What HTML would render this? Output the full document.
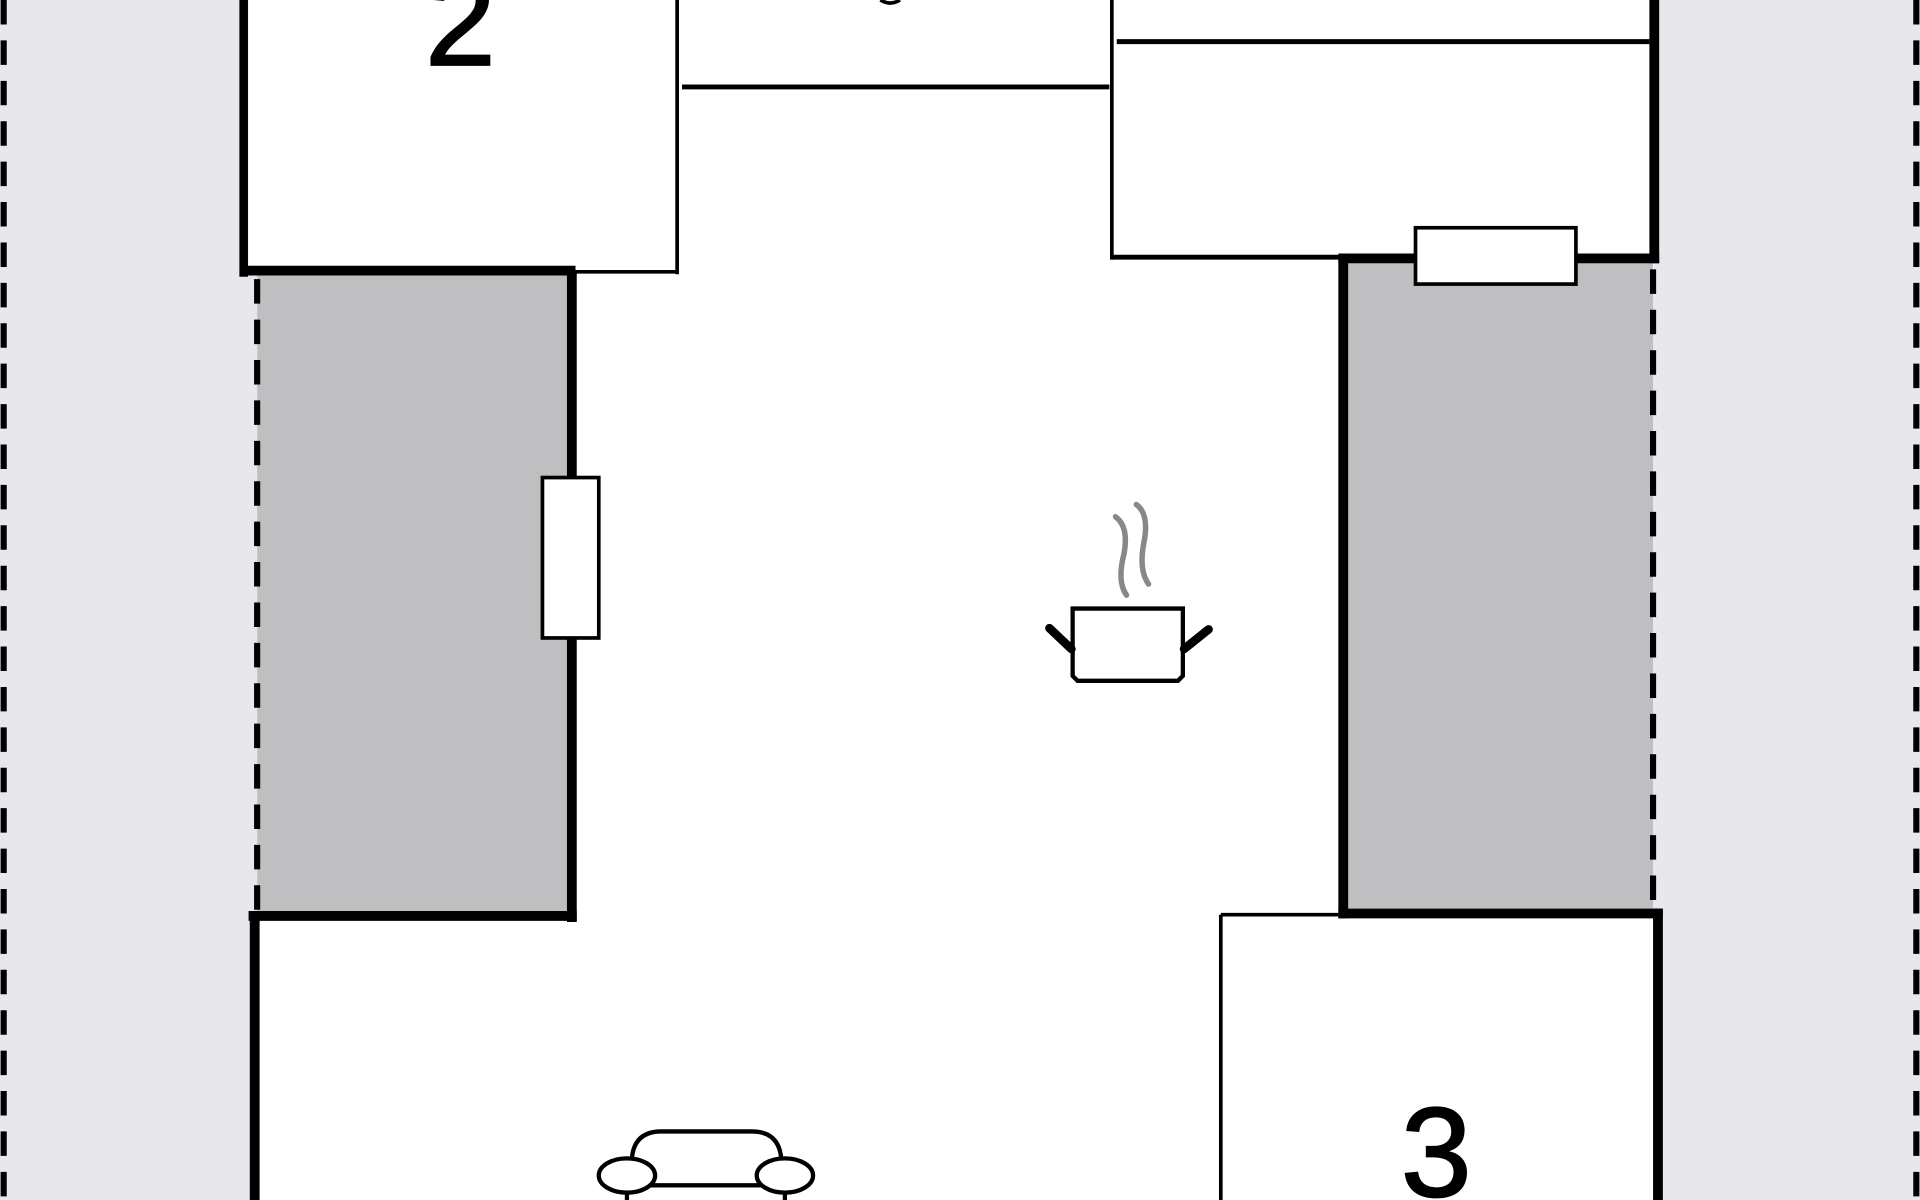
<!DOCTYPE html>
<html><head><style>html,body{margin:0;padding:0;background:#fff;}svg{display:block;}</style></head>
<body>
<svg width="1920" height="1200" viewBox="0 0 1568 980" xmlns="http://www.w3.org/2000/svg">
<rect x="0" y="0" width="1568" height="980" fill="#fff"/>
<rect x="0" y="0" width="210" height="980" fill="#e8e7ec"/>
<rect x="1350" y="0" width="218" height="980" fill="#e8e7ec"/>
<rect x="203" y="0" width="1148" height="225" fill="#fff"/>
<rect x="208" y="745" width="1146" height="235" fill="#fff"/>
<rect x="467" y="0" width="630" height="980" fill="#fff"/>
<g stroke="#000" stroke-width="5" stroke-dasharray="20 13" fill="none">
<line x1="3" y1="0" x2="3" y2="980"/>
<line x1="1565" y1="0" x2="1565" y2="980"/>
</g>
<rect x="210" y="225" width="257" height="523" fill="#bfbfc1"/>
<rect x="1097" y="212" width="253" height="534" fill="#bfbfc1"/>
<g stroke="#000" stroke-width="5" stroke-dasharray="20 13" fill="none">
<line x1="210" y1="228" x2="210" y2="748"/>
<line x1="1350" y1="220" x2="1350" y2="746"/>
</g>
<g stroke="#000" fill="none">
<line x1="199" y1="0" x2="199" y2="226" stroke-width="7"/>
<line x1="196" y1="221" x2="470" y2="221" stroke-width="8"/>
<line x1="470" y1="222" x2="553" y2="222" stroke-width="3"/>
<line x1="553" y1="0" x2="553" y2="224" stroke-width="3"/>
<line x1="557" y1="71" x2="906" y2="71" stroke-width="4"/>
<path d="M719 0 Q727 5 735 0" stroke-width="3"/>
<line x1="908" y1="0" x2="908" y2="212" stroke-width="3"/>
<line x1="912" y1="34" x2="1347" y2="34" stroke-width="4"/>
<line x1="908" y1="210" x2="1097" y2="210" stroke-width="4"/>
<line x1="1351" y1="0" x2="1351" y2="215" stroke-width="8"/>
<line x1="1093" y1="211" x2="1355" y2="211" stroke-width="8"/>
<line x1="467" y1="221" x2="467" y2="753" stroke-width="8"/>
<line x1="203" y1="748" x2="471" y2="748" stroke-width="8"/>
<line x1="208" y1="745" x2="208" y2="980" stroke-width="8"/>
<line x1="1097" y1="208" x2="1097" y2="750" stroke-width="8"/>
<line x1="1093" y1="746" x2="1358" y2="746" stroke-width="8"/>
<line x1="1354" y1="742" x2="1354" y2="980" stroke-width="8"/>
<line x1="997" y1="747" x2="997" y2="980" stroke-width="3"/>
<line x1="997" y1="747" x2="1093" y2="747" stroke-width="3"/>
</g>
<rect x="1156" y="186" width="131" height="46" fill="#fff" stroke="#000" stroke-width="3"/>
<rect x="443" y="390" width="46" height="131" fill="#fff" stroke="#000" stroke-width="3"/>
<g stroke="#000" fill="none">
<path d="M876 497 H966 V552 L962 556 H880 L876 552 Z" fill="#fff" stroke-width="3.5"/>
<line x1="875" y1="530" x2="857" y2="513" stroke-width="7" stroke-linecap="round"/>
<line x1="967" y1="530" x2="987" y2="514" stroke-width="7" stroke-linecap="round"/>
</g>
<g stroke="#888" stroke-width="4.5" fill="none" stroke-linecap="round">
<path d="M911 422 Q922 430 918 452 Q912 475 920 486"/>
<path d="M928 412 Q939 420 934 444 Q930 466 938 477"/>
</g>
<g stroke="#000" stroke-width="3.5" fill="#fff">
<path d="M516 946 Q518 924 540 924 H614 Q636 924 638 946 V968 H516 Z"/>
<ellipse cx="512" cy="960" rx="23" ry="14"/>
<ellipse cx="641" cy="960" rx="23" ry="14"/>
<line x1="512" y1="974" x2="512" y2="980"/>
<line x1="641" y1="974" x2="641" y2="980"/>
</g>
<text x="376" y="53" font-family="Liberation Sans, sans-serif" font-size="104" text-anchor="middle" fill="#000" stroke="#000" stroke-width="1.5">2</text>
<text x="1173" y="977" font-family="Liberation Sans, sans-serif" font-size="104" text-anchor="middle" fill="#000" stroke="#000" stroke-width="1.5">3</text>
</svg>
</body></html>
